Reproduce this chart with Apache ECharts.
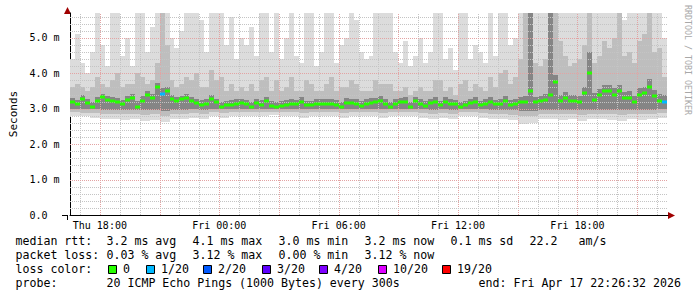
<!DOCTYPE html>
<html><head><meta charset="utf-8">
<script src="https://cdn.jsdelivr.net/npm/echarts@6/dist/echarts.min.js"></script>
<style>html,body{margin:0;padding:0;background:#fff}#c{width:697px;height:297px}</style>
</head><body><div id="c"></div>
<script>
// ---- time base: hours since Thu 00:00 ----
const T0 = 16.5;      // first sample (Thu 16:30)
const STEP = 0.25;    // 15 min per upper-smoke / median sample
const T_END = 46.55;
const Y_MAX = 5.7;

// median RTT (ms)
const median = [
 3.2,3.13,3.28,3.16,3.06,3.21,3.33,3.25,3.21,3.18,
 3.13,3.25,3.3,3.06,3.22,3.4,3.3,3.6,3.42,3.5,
 3.27,3.23,3.27,3.3,3.22,3.15,3.11,3.14,3.27,3.18,
 3.06,3.09,3.11,3.13,3.16,3.12,3.06,3.16,3.11,3.22,
 3.08,3.06,3.08,3.11,3.14,3.13,3.2,3.09,3.1,3.13,
 3.13,3.14,3.13,3.11,3.04,3.17,3.15,3.14,3.08,3.14,
 3.17,3.19,3.23,3.13,3.05,3.14,3.18,3.2,3.05,3.22,
 3.14,3.08,3.15,3.2,3.1,3.2,3.14,3.12,3.06,3.1,
 3.15,3.2,3.09,3.14,3.2,3.12,3.14,3.23,3.11,3.13,
 3.18,3.2,3.5,3.18,3.21,3.25,3.39,3.75,3.21,3.3,
 3.23,3.22,3.2,3.45,4.0,3.25,3.38,3.5,3.5,3.4,
 3.5,3.3,3.3,3.18,3.39,3.45,3.6,3.35,3.22,3.2
];
// lost pings (of 20) per sample
const lossCount = [
 0,0,0,0,0,0,0,0,0,0, 0,0,0,0,0,0,0,0,1,0,
 0,0,0,0,0,0,0,0,0,0, 0,0,0,0,0,0,0,0,0,0,
 0,0,0,0,0,0,0,0,0,0, 0,0,0,0,0,0,0,0,0,0,
 0,0,0,0,0,0,0,0,0,0, 0,0,0,0,0,0,0,0,0,0,
 0,0,0,0,0,0,0,0,0,0, 0,0,0,0,0,0,0,0,0,0,
 0,0,0,0,0,0,0,0,0,0, 0,0,0,0,0,0,0,0,0,1
];
// highest ping (light smoke top, ms)
const smokeTop = [
 4.4,5.1,4.3,4.0,4.6,5.7,4.8,4.2,5.7,5.7,
 4.5,5.0,4.2,5.7,5.7,4.6,5.3,5.7,5.7,5.7,
 5.0,4.7,5.2,5.7,5.7,5.7,5.5,4.6,5.7,5.7,
 5.7,4.8,5.6,4.4,5.0,4.8,5.3,4.5,5.7,5.7,
 4.6,5.7,4.4,5.0,5.7,4.5,4.3,5.7,5.7,4.2,
 4.6,5.7,5.7,4.3,4.8,5.0,5.7,5.5,4.6,4.4,
 4.5,5.7,5.7,5.7,5.7,4.6,4.3,4.9,4.2,4.5,
 5.0,4.3,4.6,5.7,5.7,4.4,4.7,4.1,5.7,5.7,
 4.4,4.8,4.6,4.3,5.7,4.5,5.7,5.7,4.8,5.0,
 5.7,5.7,5.7,5.7,5.7,5.7,5.7,5.7,5.7,5.7,
 5.7,5.7,5.7,5.7,5.7,5.7,5.7,5.7,5.7,5.7,
 5.7,5.5,5.7,5.7,5.7,5.7,5.7,5.7,5.7,5.0
];
// medium smoke top (ms)
const smokeMid = [
 3.6,3.7,3.6,3.5,3.6,3.9,3.7,3.6,3.8,4.0,
 3.6,3.7,3.7,4.0,3.9,3.7,3.8,4.3,5.7,4.8,
 3.8,3.6,3.7,3.9,3.8,4.0,3.6,3.6,4.1,3.8,
 3.9,3.5,3.7,3.5,3.6,3.5,3.7,3.5,3.8,3.9,
 3.5,3.8,3.5,3.6,3.9,3.5,3.5,3.8,3.7,3.5,
 3.5,3.7,3.9,3.5,3.6,3.6,3.8,3.7,3.5,3.5,
 3.5,3.8,3.7,3.7,3.7,3.5,3.5,3.6,3.4,3.5,
 3.6,3.5,3.5,3.8,3.8,3.5,3.6,3.4,3.7,3.8,
 3.5,3.7,3.6,3.5,3.9,3.6,4.0,4.1,3.7,3.9,
 4.4,5.7,5.7,4.3,4.2,4.4,4.7,5.7,4.9,4.5,
 4.2,4.3,4.4,4.8,5.7,4.3,4.5,4.9,4.7,5.0,
 5.7,4.5,4.6,4.3,4.9,5.1,5.7,4.6,4.7,3.9
];
// dense (dark) smoke top (ms)
const smokeDark = [
 3.3,3.25,3.38,3.28,3.2,3.32,3.42,3.36,3.32,3.3,
 3.25,3.36,3.42,3.22,3.35,3.5,3.42,3.72,3.58,3.6,
 3.38,3.33,3.37,3.42,3.33,3.27,3.24,3.26,3.38,3.28,
 3.2,3.22,3.24,3.26,3.28,3.25,3.2,3.28,3.24,3.33,
 3.21,3.2,3.21,3.24,3.26,3.25,3.32,3.22,3.23,3.26,
 3.26,3.27,3.26,3.24,3.18,3.29,3.28,3.27,3.21,3.27,
 3.29,3.31,3.35,3.26,3.19,3.27,3.3,3.32,3.19,3.34,
 3.27,3.21,3.28,3.32,3.23,3.32,3.27,3.25,3.2,3.23,
 3.28,3.32,3.22,3.27,3.33,3.25,3.28,3.36,3.25,3.27,
 3.32,3.35,5.7,3.32,3.36,3.42,5.7,3.95,3.38,3.48,
 3.4,3.38,3.36,3.62,4.6,3.45,3.55,3.68,3.66,3.58,
 3.68,3.48,3.5,3.36,3.58,3.62,3.85,3.52,3.42,3.38
];
// lower smoke edges (30-min samples, ms)
const smokeLow = [
 2.8,2.78,2.75,2.72,2.7,2.68,2.7,2.65,2.68,2.62,
 2.7,2.72,2.75,2.72,2.78,2.75,2.78,2.8,2.78,2.8,
 2.82,2.78,2.8,2.75,2.78,2.8,2.78,2.75,2.8,2.78,
 2.8,2.75,2.78,2.8,2.78,2.75,2.72,2.75,2.72,2.78,
 2.8,2.75,2.72,2.7,2.68,2.58,2.6,2.7,2.72,2.68,
 2.72,2.65,2.7,2.72,2.68,2.65,2.7,2.68,2.72,2.75
];
const smokeMidLow = [
 2.9,2.88,2.87,2.86,2.85,2.84,2.86,2.82,2.84,2.8,
 2.85,2.86,2.88,2.86,2.9,2.88,2.9,2.9,2.9,2.91,
 2.92,2.9,2.91,2.88,2.9,2.91,2.9,2.88,2.9,2.9,
 2.91,2.88,2.9,2.9,2.9,2.88,2.86,2.88,2.86,2.9,
 2.9,2.88,2.86,2.85,2.83,2.78,2.8,2.84,2.86,2.84,
 2.86,2.82,2.85,2.86,2.84,2.82,2.85,2.84,2.86,2.88
];
const smokeDarkLow = [
 3.0,2.98,2.98,2.97,2.96,2.96,2.97,2.95,2.96,2.94,
 2.97,2.97,2.98,2.97,2.99,2.98,2.99,2.99,2.99,3.0,
 3.0,2.99,3.0,2.98,2.99,3.0,2.99,2.98,2.99,2.99,
 3.0,2.98,2.99,2.99,2.99,2.98,2.97,2.98,2.97,2.99,
 2.99,2.98,2.97,2.97,2.96,2.93,2.94,2.96,2.97,2.96,
 2.97,2.95,2.96,2.97,2.96,2.95,2.96,2.96,2.97,2.98
];

// axis ticks / labels
const xTickHours = [18, 24, 30, 36, 42];
const xTickLabels = ['Thu 18:00', 'Fri 00:00', 'Fri 06:00', 'Fri 12:00', 'Fri 18:00'];
const yTickValues = [0, 1, 2, 3, 4, 5];
const yTickLabels = ['0.0', '1.0 m', '2.0 m', '3.0 m', '4.0 m', '5.0 m'];

// legend texts
const rttStats = ['3.2 ms avg', '4.1 ms max', '3.0 ms min', '3.2 ms now', '0.1 ms sd', '22.2', 'am/s'];
const lossStats = ['0.03 % avg', '3.12 % max', '0.00 % min', '3.12 % now'];
const lossLabels = ['0', '1/20', '2/20', '3/20', '4/20', '10/20', '19/20'];
const lossThresholds = [0, 1, 2, 3, 4, 10, 19];
const lossColors = ['#26ff00', '#00b8ff', '#0059ff', '#5e00ff', '#7e00ff', '#dd00ff', '#ff0000'];
const probeText = '20 ICMP Echo Pings (1000 Bytes) every 300s';
const endText = 'end: Fri Apr 17 22:26:32 2026';

// ---- build ----
const MONO = '"DejaVu Sans Mono", monospace';
function lossColor(n) {
  let c = lossColors[0];
  for (let i = 0; i < lossThresholds.length; i++) if (n >= lossThresholds[i]) c = lossColors[i];
  return c;
}
const lightData = smokeTop.map((v, i) => [T0 + i * STEP, smokeLow[i >> 1], v]);
const midData = smokeMid.map((v, i) => [T0 + i * STEP, smokeMidLow[i >> 1], v]);
const darkData = smokeDark.map((v, i) => [T0 + i * STEP, smokeDarkLow[i >> 1], v]);
const medData = median.map((v, i) => [T0 + i * STEP, v, lossCount[i]]);

function bandRenderer(fill) {
  return function (params, api) {
    const t = api.value(0);
    const p0 = api.coord([t, api.value(2)]);
    const p1 = api.coord([t + STEP, api.value(1)]);
    const x0 = Math.round(p0[0]), x1 = Math.round(p1[0]);
    const y0 = Math.round(p0[1]), y1 = Math.round(p1[1]);
    return { type: 'rect', shape: { x: x0, y: y0, width: x1 - x0, height: y1 - y0 }, style: { fill: fill } };
  };
}
function medianRenderer(params, api) {
  const t = api.value(0);
  const p0 = api.coord([t, api.value(1)]);
  const p1 = api.coord([t + STEP, api.value(1)]);
  const x0 = Math.round(p0[0]), x1 = Math.round(p1[0]);
  return { type: 'rect', shape: { x: x0, y: Math.round(p0[1]) - 1.5, width: x1 - x0, height: 3 }, style: { fill: lossColor(api.value(2)) } };
}

// grid lines: [x, y, kind]  kind 0 = minor vertical, 1 = major vertical, 2 = minor horizontal, 3 = major horizontal
const GRAY = '#c4c4c4', RED = '#e3a3a3';
const gridData = [];
for (let h = Math.ceil(T0); h <= Math.floor(T_END); h++) gridData.push([h, 0, h % 3 === 0 ? 1 : 0]);
for (let i = 1; i <= 28; i++) gridData.push([T0, i / 5, i % 5 === 0 ? 3 : 2]);
function gridRenderer(params, api) {
  const kind = api.value(2);
  let a, b;
  if (kind < 2) {
    a = api.coord([api.value(0), 0]); b = api.coord([api.value(0), Y_MAX]);
    a[0] = b[0] = Math.round(a[0]) + 0.5;
  } else {
    a = api.coord([T0, api.value(1)]); b = api.coord([T_END, api.value(1)]);
    a[1] = b[1] = Math.round(a[1]) + 0.5;
  }
  return { type: 'line', shape: { x1: a[0], y1: a[1], x2: b[0], y2: b[1] },
    style: { stroke: (kind === 1 || kind === 3) ? RED : GRAY, lineWidth: 1, lineDash: [1, 1] } };
}

const chart = echarts.init(document.getElementById('c'), null, { renderer: 'svg', width: 697, height: 297 });

const graphics = [];
function txt(x, y, s, size) {
  graphics.push({ type: 'text', x: x, y: y, style: { text: s, font: (size || 11.6) + 'px ' + MONO, fill: '#000', textAlign: 'left', textVerticalAlign: 'middle' } });
}
const rttX = [107, 193, 279, 365, 451, 530, 579];
const lossX = [107, 193, 279, 365];
const swX = [108, 146, 203, 262, 319, 378, 442];
txt(15.5, 241, 'median rtt:');
rttStats.forEach((s, i) => txt(rttX[i] - 0.5, 241, s));
txt(15.5, 255, 'packet loss:');
lossStats.forEach((s, i) => txt(lossX[i] - 0.5, 255, s));
txt(15.5, 269, 'loss color:');
lossLabels.forEach((s, i) => {
  graphics.push({ type: 'rect', shape: { x: swX[i] + 0.5, y: 265.5, width: 8, height: 8 }, style: { fill: lossColors[i], stroke: '#000', lineWidth: 1 } });
  txt(swX[i] + 15, 269, s);
});
txt(15.5, 283, 'probe:');
txt(106.5, 283, probeText);
graphics.push({ type: 'text', x: 681, y: 283, style: { text: endText, font: '11.6px ' + MONO, fill: '#000', textAlign: 'right', textVerticalAlign: 'middle' } });
// watermark
graphics.push({ type: 'text', x: 688, y: 5, rotation: -Math.PI / 2, style: { text: 'RRDTOOL / TOBI OETIKER', font: '8.3px ' + MONO, fill: '#a8a8a8', textAlign: 'left', textVerticalAlign: 'middle' } });
// axis extensions and arrows
graphics.push({ type: 'line', shape: { x1: 62, y1: 215.5, x2: 67, y2: 215.5 }, style: { stroke: '#000', lineWidth: 1 } });
graphics.push({ type: 'line', shape: { x1: 67.5, y1: 215, x2: 67.5, y2: 220 }, style: { stroke: '#000', lineWidth: 1 } });
graphics.push({ type: 'line', shape: { x1: 67.5, y1: 9, x2: 67.5, y2: 14 }, style: { stroke: '#000', lineWidth: 1 } });
graphics.push({ type: 'line', shape: { x1: 668, y1: 215.5, x2: 671, y2: 215.5 }, style: { stroke: '#000', lineWidth: 1 } });
graphics.push({ type: 'polygon', shape: { points: [[668, 212], [675, 215.5], [668, 219]] }, style: { fill: '#a00000' } });
graphics.push({ type: 'polygon', shape: { points: [[64, 14], [67.5, 7], [71, 14]] }, style: { fill: '#a00000' } });

chart.setOption({
  animation: false,
  backgroundColor: '#ffffff',
  grid: { left: 67, top: 13, width: 601, height: 202 },
  xAxis: {
    type: 'value', min: T0, max: T_END,
    axisLine: { show: true, lineStyle: { color: '#000', width: 1 } },
    axisTick: { show: false },
    splitLine: { show: false },
    axisLabel: {
      customValues: xTickHours,
      formatter: v => xTickLabels[xTickHours.indexOf(v)] || '',
      fontFamily: MONO, fontSize: 10, color: '#000', margin: 5
    }
  },
  yAxis: {
    type: 'value', min: 0, max: Y_MAX,
    name: 'Seconds', nameLocation: 'middle', nameGap: 51, nameRotate: 90,
    nameTextStyle: { fontFamily: MONO, fontSize: 11, color: '#000' },
    axisLine: { show: true, lineStyle: { color: '#000', width: 1 } },
    axisTick: { show: false },
    splitLine: { show: false },
    axisLabel: { show: false }
  },
  series: [
    { type: 'custom', name: 'smoke-light', data: lightData, renderItem: bandRenderer('#dcdcdc'), encode: { x: 0, y: [1, 2] }, z: 1, silent: true, clip: true },
    { type: 'custom', name: 'smoke-mid', data: midData, renderItem: bandRenderer('#bebebe'), encode: { x: 0, y: [1, 2] }, z: 2, silent: true, clip: true },
    { type: 'custom', name: 'smoke-dark', data: darkData, renderItem: bandRenderer('#858585'), encode: { x: 0, y: [1, 2] }, z: 3, silent: true, clip: true },
    { type: 'custom', name: 'grid', data: gridData, renderItem: gridRenderer, encode: { x: 0, y: 1 }, z: 4, silent: true },
    { type: 'custom', name: 'median', data: medData, renderItem: medianRenderer, encode: { x: 0, y: 1 }, z: 5, silent: true, clip: true }
  ]
});

// y-axis tick labels placed through the axis scale
yTickValues.forEach((v, i) => {
  const py = chart.convertToPixel({ yAxisIndex: 0 }, v);
  graphics.push({ type: 'text', x: 29.5, y: py, style: { text: yTickLabels[i], font: '10px ' + MONO, fill: '#000', textAlign: 'left', textVerticalAlign: 'middle' } });
});
chart.setOption({ graphic: graphics });
</script></body></html>
